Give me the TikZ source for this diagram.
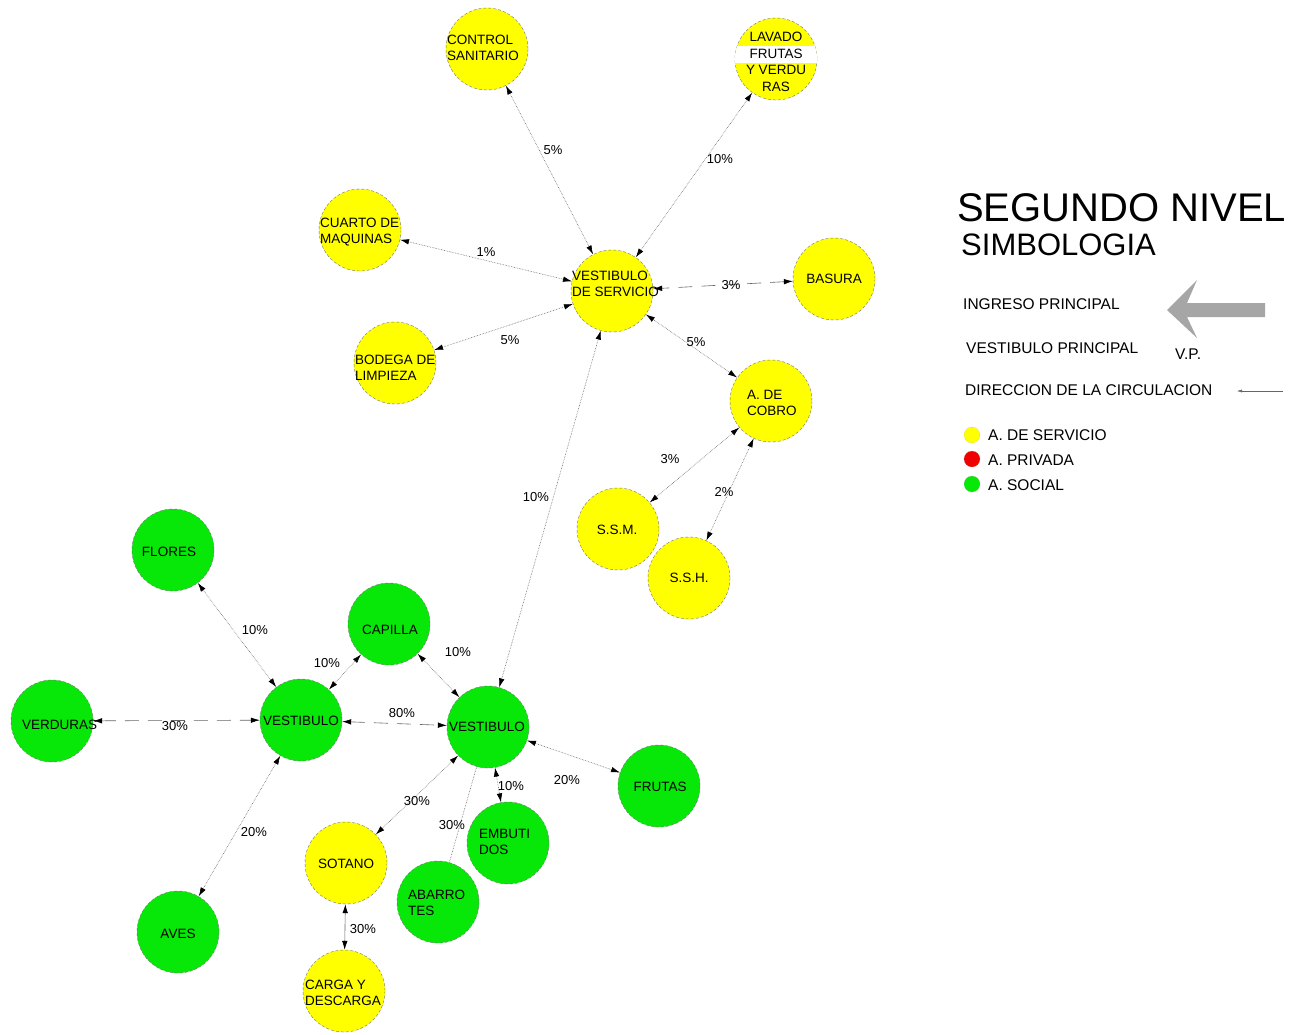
\documentclass[tikz,border=0pt]{standalone}
\usepackage{fontspec}
\setmainfont{Liberation Sans}
\usetikzlibrary{arrows.meta}
\definecolor{yellowc}{RGB}{255,255,0}
\definecolor{greenc}{RGB}{8,232,8}
\definecolor{redc}{RGB}{240,0,0}
\tikzset{
 room/.style={circle, minimum size=82pt, inner sep=0pt, draw=black!55, densely dashed, line width=0.4pt},
 serv/.style={room, fill=yellowc},
 soc/.style={room, fill=greenc},
 txt/.style={font=\fontsize{13.5}{16.5}\selectfont, inner sep=0pt, align=left},
 tipb/.tip={Latex[length=9pt,width=5.5pt,black]},
 rel/.style={draw=black!60, densely dotted, line width=0.6pt, tipb-tipb},
 reldash/.style={rel, dash pattern=on 14pt off 9pt},
 relplain/.style={draw=black!60, densely dotted, line width=0.6pt},
 pct/.style={font=\fontsize{13}{15}\selectfont, inner sep=1pt},
 leg/.style={font=\fontsize{15.5}{18}\selectfont, inner sep=0pt, anchor=west},
 dot/.style={circle, minimum size=16pt, inner sep=0pt, draw=black!40, densely dotted, line width=0.3pt},
}
\begin{document}
\begin{tikzpicture}[x=1pt,y=-1pt]
\useasboundingbox (0,0) rectangle (1290,1034);

% rooms
\node[serv] (cs) at (487,49) {};
\node[serv] (lav) at (776,59) {};
\node[serv] (cm) at (360,230) {};
\node[serv] (bl) at (395,363) {};
\node[serv] (vs) at (612,291) {};
\node[serv] (ba) at (834,279) {};
\node[serv] (ac) at (771,401) {};
\node[serv] (ssm) at (618,529) {};
\node[serv] (ssh) at (689,578) {};
\node[soc] (fl) at (173,550) {};
\node[soc] (cap) at (389,624) {};
\node[soc] (ve) at (52,721) {};
\node[soc] (vl) at (301,720) {};
\node[soc] (vr) at (488,727) {};
\node[soc] (fr) at (659,786) {};
\node[soc] (em) at (508,843) {};
\node[serv] (so) at (346,863) {};
\node[soc] (ab) at (438,902) {};
\node[soc] (av) at (178,932) {};
\node[serv] (cd) at (344,991) {};

\begin{scope}
\clip (lav.center) circle[radius=41pt];
\fill[white] (730,46) rectangle (822,63);
\end{scope}

% room texts
\node[txt, anchor=west] (tcs) at (447,48) {CONTROL\\SANITARIO};
\node[txt, align=center] (tlav) at (776,62) {LAVADO\\FRUTAS\\Y VERDU\\RAS};
\node[txt, anchor=west] (tcm) at (320,232) {CUARTO DE\\MAQUINAS};
\node[txt, anchor=west] (tbl) at (355,368) {BODEGA DE\\LIMPIEZA};
\node[txt, anchor=west] (tvs) at (572,284) {VESTIBULO\\DE SERVICIO};
\node[txt] (tba) at (834,279) {BASURA};
\node[txt, anchor=west] (tac) at (747,403) {A. DE\\COBRO};
\node[txt] (tssm) at (617,530) {S.S.M.};
\node[txt] (tssh) at (689,578) {S.S.H.};
\node[txt] (tfl) at (169,552) {FLORES};
\node[txt] (tcap) at (390,630) {CAPILLA};
\node[txt, anchor=west] (tve) at (22,725) {VERDURAS};
\node[txt] (tvl) at (301,721) {VESTIBULO};
\node[txt] (tvr) at (487,727) {VESTIBULO};
\node[txt] (tfr) at (660,787) {FRUTAS};
\node[txt, anchor=west] (tem) at (479,842) {EMBUTI\\DOS};
\node[txt] (tso) at (346,864) {SOTANO};
\node[txt, anchor=west] (tab) at (408,903) {ABARRO\\TES};
\node[txt] (tav) at (178,934) {AVES};
\node[txt, anchor=west] (tcd) at (305,993) {CARGA Y\\DESCARGA};

% connectors
\draw[rel] (cs) -- (vs);
\draw[rel] (lav) -- (vs);
\draw[rel] (cm) -- (vs);
\draw[rel] (bl) -- (vs);
\draw[reldash] (ba) -- (vs);
\draw[rel] (vs) -- (ac);
\draw[rel] (ac) -- (ssm);
\draw[rel] (ac) -- (ssh);
\draw[rel] (vs) -- (vr);
\draw[rel] (fl) -- (vl);
\draw[rel] (vl) -- (cap);
\draw[rel] (cap) -- (vr);
\draw[reldash] (ve) -- (vl);
\draw[reldash] (vl) -- (vr);
\draw[rel] (vl) -- (av);
\draw[rel] (vr) -- (so);
\draw[relplain] (vr) -- (ab);
\draw[rel] (vr) -- (em);
\draw[rel] (vr) -- (fr);
\draw[rel, solid] (so) -- (cd);

% percentages
\node[pct] (p1) at (553,150) {5\%};
\node[pct] (p2) at (720,159) {10\%};
\node[pct] (p3) at (486,252) {1\%};
\node[pct] (p4) at (510,340) {5\%};
\node[pct] (p5) at (731,285) {3\%};
\node[pct] (p6) at (696,342) {5\%};
\node[pct] (p7) at (670,459) {3\%};
\node[pct] (p8) at (724,492) {2\%};
\node[pct] (p9) at (536,497) {10\%};
\node[pct] (p10) at (255,630) {10\%};
\node[pct] (p11) at (327,663) {10\%};
\node[pct] (p12) at (458,652) {10\%};
\node[pct] (p13) at (175,726) {30\%};
\node[pct] (p14) at (402,713) {80\%};
\node[pct] (p15) at (254,832) {20\%};
\node[pct] (p16) at (417,801) {30\%};
\node[pct] (p17) at (452,825) {30\%};
\node[pct] (p18) at (511,786) {10\%};
\node[pct] (p19) at (567,780) {20\%};
\node[pct] (p20) at (363,929) {30\%};

% legend
\node[anchor=west, inner sep=0pt, font=\fontsize{40}{44}\selectfont] (title) at (957,208) {SEGUNDO NIVEL};
\node[anchor=west, inner sep=0pt, font=\fontsize{31}{34}\selectfont] (simb) at (961,245) {SIMBOLOGIA};
\node[leg] (ing) at (963,304) {INGRESO PRINCIPAL};
\node[leg] (vpr) at (966,348) {VESTIBULO PRINCIPAL};
\node[leg] (vp) at (1175,354) {V.P.};
\node[leg] (dir) at (965,390) {DIRECCION DE LA CIRCULACION};
\fill[black!35] (1167,310) -- (1197,280) -- (1187,303) -- (1265,303) -- (1265,317) -- (1187,317) -- (1197,338) -- cycle;
\coordinate (d1) at (1283,391);
\coordinate (d2) at (1237,391);
\draw[black!60, line width=0.4pt, -{Latex[length=5pt,width=3pt]}] (d1) -- (d2);
\node[dot, fill=yellowc] (ly) at (972,435) {};
\node[dot, fill=redc] (lr) at (972,459) {};
\node[dot, fill=greenc] (lg) at (972,484) {};
\node[leg] (tly) at (988,435) {A. DE SERVICIO};
\node[leg] (tlr) at (988,460) {A. PRIVADA};
\node[leg] (tlg) at (988,485) {A. SOCIAL};
\end{tikzpicture}
\end{document}
